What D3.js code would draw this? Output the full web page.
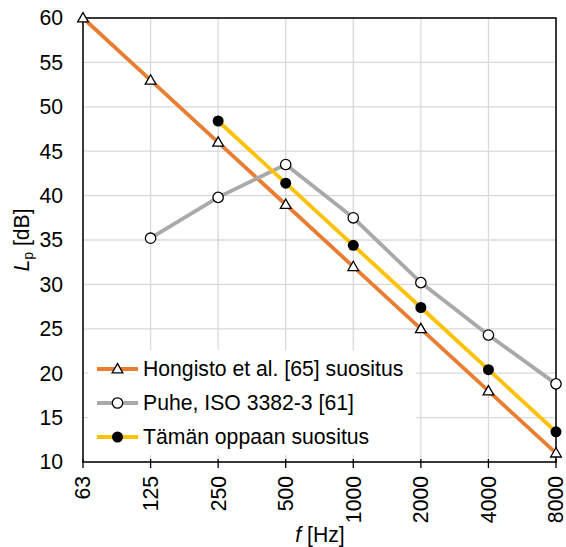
<!DOCTYPE html>
<html><head><meta charset="utf-8">
<script src="https://cdn.jsdelivr.net/npm/d3@7"></script>
<style>body{margin:0;background:#fff;} text{font-family:"Liberation Sans",Arial,sans-serif;fill:#000;}</style>
</head><body>
<svg id="c" width="566" height="547"></svg>
<script>
const categories = ["63","125","250","500","1000","2000","4000","8000"];
const hongisto = [60,53,46,39,32,25,18,11];
const puhe = [null,35.2,39.8,43.5,37.5,30.2,24.3,18.8];
const taman = [null,null,48.4,41.4,34.4,27.4,20.4,13.4];
const yTicks = [10,15,20,25,30,35,40,45,50,55,60];
const legendLabels = ["Hongisto et al. [65] suositus","Puhe, ISO 3382-3 [61]","Tämän oppaan suositus"];

const FS = 21.2;
const svg = d3.select("#c");
const L=83, R=556, T=18, B=462;
const x = d3.scalePoint().domain(categories).range([L,R]);
const y = d3.scaleLinear().domain([10,60]).range([B,T]);

// grid
svg.append("g").selectAll("line").data(yTicks).join("line")
  .attr("x1",L).attr("x2",R).attr("y1",d=>y(d)).attr("y2",d=>y(d))
  .attr("stroke","#d9d9d9").attr("stroke-width",1.3);
svg.append("g").selectAll("line").data(categories).join("line")
  .attr("x1",d=>x(d)).attr("x2",d=>x(d)).attr("y1",T).attr("y2",B)
  .attr("stroke","#d9d9d9").attr("stroke-width",1.3);

// frame
svg.append("rect").attr("x",L).attr("y",T).attr("width",R-L).attr("height",B-T)
  .attr("fill","none").attr("stroke","#000").attr("stroke-width",1.5);

// x ticks
svg.append("g").selectAll("line").data(categories).join("line")
  .attr("x1",d=>x(d)).attr("x2",d=>x(d)).attr("y1",B-3).attr("y2",B+6)
  .attr("stroke","#000").attr("stroke-width",1.3);

// y labels
svg.append("g").selectAll("text").data(yTicks).join("text")
  .attr("x",63).attr("y",d=>y(d)).attr("dy","0.35em").attr("text-anchor","end")
  .attr("font-size",FS).text(d=>d);

// x labels
svg.append("g").selectAll("text").data(categories).join("text")
  .attr("transform",d=>`translate(${x(d)},476) rotate(-90)`)
  .attr("dy","0.35em").attr("text-anchor","end").attr("font-size",FS).text(d=>d);

// axis titles
const xt = svg.append("text").attr("x",320).attr("y",542).attr("text-anchor","middle").attr("font-size",FS);
xt.append("tspan").attr("font-style","italic").text("f");
xt.append("tspan").text(" [Hz]");
const yt = svg.append("text").attr("transform","translate(29,240) rotate(-90)").attr("text-anchor","middle").attr("font-size",FS);
yt.append("tspan").attr("font-style","italic").text("L");
yt.append("tspan").attr("font-size",14).attr("dy",4).text("p");
yt.append("tspan").attr("dy",-4).text(" [dB]");

const series = [
  {vals:hongisto,color:"#e97d32",marker:"tri"},
  {vals:puhe,color:"#a9a9a9",marker:"open"},
  {vals:taman,color:"#fdc100",marker:"fill"}
];
const line = d3.line().defined(d=>d.v!=null).x(d=>x(d.c)).y(d=>y(d.v));
const tri = d3.symbol().type(d3.symbolTriangle).size(50);

function drawMarker(g,m,px,py){
  if(m==="tri") g.append("path").attr("d",tri()).attr("transform",`translate(${px},${py+0.8})`)
    .attr("fill","#fff").attr("stroke","#000").attr("stroke-width",1.3);
  else if(m==="open") g.append("circle").attr("cx",px).attr("cy",py).attr("r",5.2)
    .attr("fill","#fff").attr("stroke","#000").attr("stroke-width",1.3);
  else g.append("circle").attr("cx",px).attr("cy",py).attr("r",5.5).attr("fill","#000");
}

series.forEach(s=>{
  const pts = categories.map((c,i)=>({c,v:s.vals[i]}));
  svg.append("path").attr("d",line(pts)).attr("fill","none").attr("stroke",s.color).attr("stroke-width",3.8);
});
series.forEach(s=>{
  const g = svg.append("g");
  categories.forEach((c,i)=>{ if(s.vals[i]!=null) drawMarker(g,s.marker,x(c),y(s.vals[i])); });
});

// legend
const lg = svg.append("g");
lg.append("rect").attr("x",88).attr("y",350).attr("width",328).attr("height",105).attr("fill","#fff");
const ly = [369,403,437];
series.forEach((s,i)=>{
  lg.append("line").attr("x1",97).attr("x2",138).attr("y1",ly[i]).attr("y2",ly[i])
    .attr("stroke",s.color).attr("stroke-width",3.8);
  drawMarker(lg,s.marker,117.5,ly[i]);
  lg.append("text").attr("x",143).attr("y",ly[i]).attr("dy","0.35em").attr("font-size",FS).text(legendLabels[i]);
});
</script>
</body></html>
